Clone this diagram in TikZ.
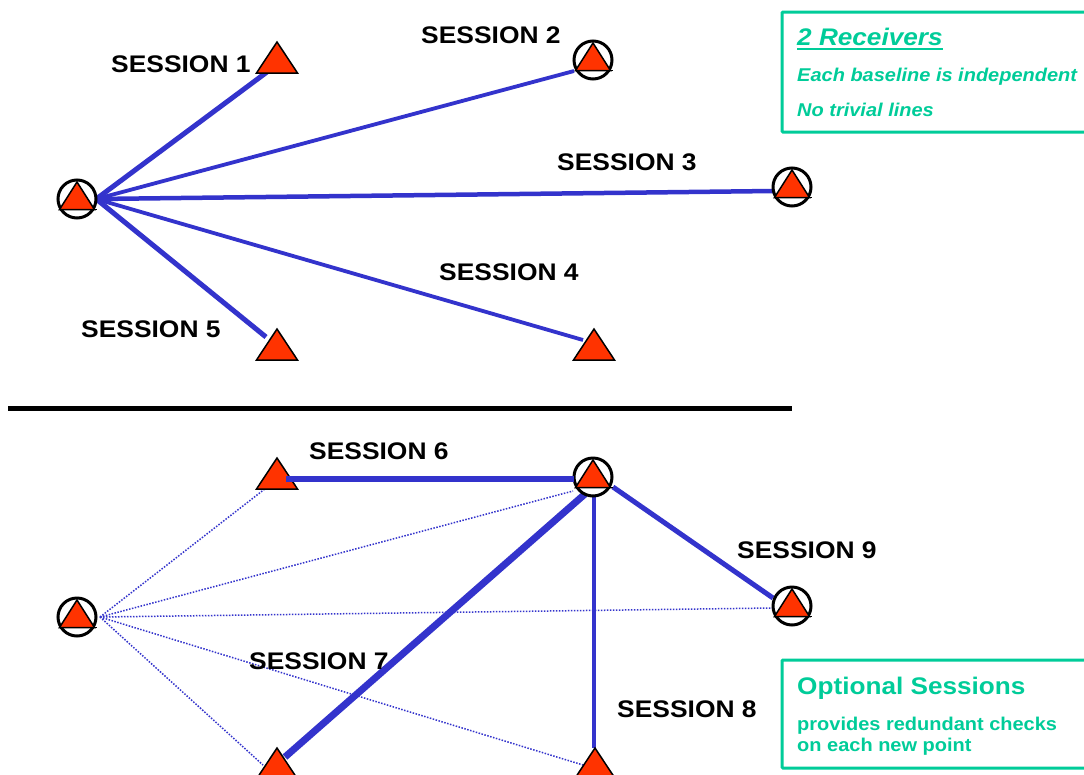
\documentclass[tikz,border=0pt]{standalone}
\usepackage{fontspec}
\setmainfont{Liberation Sans}
\definecolor{sblue}{RGB}{51,51,204}
\definecolor{tred}{RGB}{255,51,0}
\definecolor{tgreen}{RGB}{0,204,153}
\tikzset{
  tri/.pic={\draw[black,line width=1.5pt,fill=tred,line join=miter] (-20.5,15.5) -- (0,-15.5) -- (20.5,15.5) -- cycle;},
  ringtri/.pic={\draw[black,line width=1.5pt,fill=tred,line join=miter] (-17.5,10.5) -- (0,-17) -- (17.5,10.5) -- cycle;
                \draw[black,line width=1.5pt] (17.5,10.5) -- (20,10.5);},
}
\begin{document}
\begin{tikzpicture}[x=1pt,y=-1pt,
  stn/.style={circle,minimum size=38pt,inner sep=0pt},
  ring/.style={stn,draw=black,line width=3pt,fill=white},
  sess/.style={draw=sblue,line width=#1},
  opt/.style={draw=sblue,line width=1.5pt,dash pattern=on 1.5pt off 1.5pt},
  lbl/.style={font=\fontsize{24}{28}\selectfont\bfseries,anchor=base west,inner sep=0pt,xscale=1.1},
  boxtitle/.style={font=\fontsize{24}{28}\selectfont\bfseries,text=tgreen,anchor=base west,inner sep=0pt,xscale=1.09},
  boxtext/.style={font=\fontsize{18.5}{22}\selectfont\bfseries,text=tgreen,anchor=base west,inner sep=0pt,xscale=1.08},
  infobox/.style={draw=tgreen,line width=3pt,rounded corners=1pt},
  divider/.style={draw=black,line width=5.5pt},
]
\clip (0,0) rectangle (1084,774);
\fill[white] (0,0) rectangle (1084,774);

% ---------- top: stations ----------
\node[stn] (A)  at (77,199) {};
\node[stn] (S1) at (277,57.5) {};
\node[stn] (S2) at (593,60) {};
\node[stn] (S3) at (792,187) {};
\node[stn] (S4) at (594,344.5) {};
\node[stn] (S5) at (277,344.5) {};

\coordinate (e1) at (267,72);
\coordinate (e2) at (574,71);
\coordinate (e3) at (773,191);
\coordinate (e4) at (583,340);
\coordinate (e5) at (266,337);

\draw[sess=5pt]   (A.east) -- (e1);
\draw[sess=3.8pt] (A.east) -- (e2);
\draw[sess=4.5pt] (A.east) -- (e3);
\draw[sess=3.8pt] (A.east) -- (e4);
\draw[sess=5pt]   (A.east) -- (e5);

\node[ring] at (A) {};  \pic at (A) {ringtri};
\node[ring] at (S2) {}; \pic at (S2) {ringtri};
\node[ring] at (S3) {}; \pic at (S3) {ringtri};
\pic at (S1) {tri};
\pic at (S4) {tri};
\pic at (S5) {tri};

\node[lbl] (l1) at (111,72.3) {SESSION 1};
\node[lbl] (l2) at (421,43.5) {SESSION 2};
\node[lbl] (l3) at (557,170.5) {SESSION 3};
\node[lbl] (l4) at (439,280.5) {SESSION 4};
\node[lbl] (l5) at (81,337.5) {SESSION 5};

% ---------- divider ----------
\coordinate (d1) at (8,408.5);
\coordinate (d2) at (792,408.5);
\draw[divider] (d1) -- (d2);

% ---------- bottom: stations ----------
\node[stn] (B)  at (77,617) {};
\node[stn] (C)  at (593,477) {};
\node[stn] (S9) at (792,606) {};
\node[stn] (S6) at (277,473.5) {};
\node[stn] (S7) at (277,763.5) {};
\node[stn] (S8) at (595,763.5) {};

\coordinate (bo) at (100,617);
\coordinate (o6) at (266,488);
\coordinate (oC) at (573,491);
\coordinate (o9) at (772,608);
\coordinate (o8) at (583,765);
\coordinate (o7) at (263,765);

\draw[opt] (bo) -- (o6);
\draw[opt] (bo) -- (oC);
\draw[opt] (bo) -- (o9);
\draw[opt] (bo) -- (o8);
\draw[opt] (bo) -- (o7);

\coordinate (c7) at (585,494);
\coordinate (e7) at (285,757);
\coordinate (c8) at (594,496);
\coordinate (e8) at (594,748);
\coordinate (c9) at (613,487);
\coordinate (e9) at (773,598);

\draw[sess=7pt] (c7) -- (e7);
\draw[sess=4pt] (c8) -- (e8);
\draw[sess=5pt] (c9) -- (e9);

\node[ring] at (B) {};  \pic at (B) {ringtri};
\node[ring] at (C) {};  \pic at (C) {ringtri};
\node[ring] at (S9) {}; \pic at (S9) {ringtri};
\pic at (S6) {tri};
\pic at (S7) {tri};
\pic at (S8) {tri};

\coordinate (s6a) at (286,479);
\coordinate (s6b) at (574,479);
\draw[sess=5.5pt] (s6a) -- (s6b);

\node[lbl] (l6) at (309,459.5) {SESSION 6};
\node[lbl] (l7) at (249,669.5) {SESSION 7};
\node[lbl] (l8) at (617,717.3) {SESSION 8};
\node[lbl] (l9) at (737,558.5) {SESSION 9};

% ---------- info boxes ----------
\draw[infobox] (782,12) rectangle (1100,132);
\node[boxtitle,font=\fontsize{24}{28}\selectfont\bfseries\itshape] (rc) at (797,45.7) {2 Receivers};
\draw[tgreen,line width=2pt] ([yshift=-3pt]rc.base west) -- ([yshift=-3pt]rc.base east);
\node[boxtext,font=\fontsize{18.5}{22}\selectfont\bfseries\itshape] (t1) at (797,81.7) {Each baseline is independent};
\node[boxtext,font=\fontsize{18.5}{22}\selectfont\bfseries\itshape] (t2) at (797,116.7) {No trivial lines};

\draw[infobox] (782,660) rectangle (1100,768);
\node[boxtitle] (os) at (797,694) {Optional Sessions};
\node[boxtext] (t3) at (797,730) {provides redundant checks};
\node[boxtext] (t4) at (797,751.7) {on each new point};
\end{tikzpicture}
\end{document}
